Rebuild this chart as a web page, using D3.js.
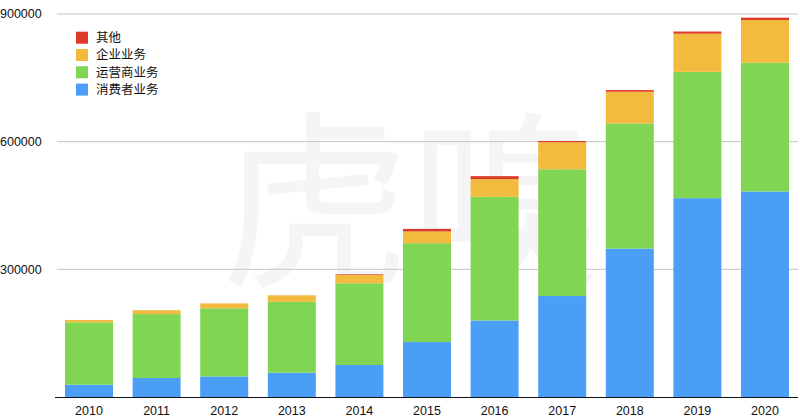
<!DOCTYPE html>
<html><head><meta charset="utf-8">
<script src="https://cdn.jsdelivr.net/npm/d3@7/dist/d3.min.js"></script>
<style>
html,body{margin:0;padding:0;background:#fff;}
svg{display:block;font-family:"Noto Sans CJK SC","Liberation Sans",Arial,sans-serif;}
</style></head>
<body><svg id="c" width="800" height="417"></svg>
<script>
const years = ["2010","2011","2012","2013","2014","2015","2016","2017","2018","2019","2020"];
const consumer   = [29000, 44620, 48376, 57014, 75100, 129128, 179808, 237249, 348852, 467304, 482916];
const carrier    = [146500, 150145, 160093, 166512, 192073, 232307, 290561, 297838, 294012, 296689, 302621];
const enterprise = [5500, 9164, 11530, 15263, 19391, 27609, 41600, 63500, 74409, 89710, 100339];
const other      = [0, 0, 0, 236, 1633, 5965, 7000, 3000, 3929, 5130, 5492];
const seriesNames = ["消费者业务","运营商业务","企业业务","其他"];
const colors = ["#4a9ef5","#80d553","#f2bb3e","#dd3b27"];
const yTicks = [300000, 600000, 900000];

const svg = d3.select("#c");

// faint watermark
svg.append("text").attr("x", 410).attr("y", 272).attr("text-anchor","middle")
  .attr("font-size", 190).attr("fill", "#f5f5f5").attr("font-family","Noto Sans CJK SC")
  .text("虎嗅");

const x = d3.scaleBand().domain(years).range([56.9, 797.1]).paddingInner(0.29).paddingOuter(0.12);
const y = d3.scaleLinear().domain([0, 900000]).range([397, 14]);

// gridlines
svg.append("g").selectAll("line").data(yTicks).join("line")
  .attr("x1", 57).attr("x2", 798).attr("y1", d => y(d)).attr("y2", d => y(d))
  .attr("stroke", "#c4c4c4").attr("stroke-width", 1);
svg.append("g").selectAll("text").data(yTicks).join("text")
  .attr("x", 0).attr("y", d => y(d)).attr("dy", "0.35em")
  .attr("font-size", 12.5).attr("fill", "#111").attr("font-family","Liberation Sans, Arial, sans-serif")
  .text(d => d);

const rows = years.map((yr, i) => ({year: yr, s0: consumer[i], s1: carrier[i], s2: enterprise[i], s3: other[i]}));
const stacked = d3.stack().keys(["s0","s1","s2","s3"])(rows);

svg.append("g").selectAll("g").data(stacked).join("g")
  .attr("fill", (d, i) => colors[i])
  .selectAll("rect").data(d => d).join("rect")
  .attr("x", d => x(d.data.year)).attr("width", x.bandwidth())
  .attr("y", d => y(d[1])).attr("height", d => Math.max(0, y(d[0]) - y(d[1])));

// baseline
svg.append("line").attr("x1", 55).attr("x2", 798).attr("y1", 397.5).attr("y2", 397.5)
  .attr("stroke", "#111").attr("stroke-width", 1.2);

// x labels
svg.append("g").selectAll("text").data(years).join("text")
  .attr("x", d => x(d) + x.bandwidth()/2).attr("y", 411).attr("dy", "0.35em")
  .attr("text-anchor", "middle").attr("font-size", 12.5).attr("fill", "#111")
  .attr("font-family","Liberation Sans, Arial, sans-serif")
  .text(d => d);

// legend
const legendOrder = [3, 2, 1, 0];
const lg = svg.append("g").selectAll("g").data(legendOrder).join("g")
  .attr("transform", (d, i) => `translate(76, ${37.7 + i*17.3})`);
lg.append("rect").attr("x", 0).attr("y", -6).attr("width", 12).attr("height", 12).attr("fill", d => colors[d]);
lg.append("text").attr("x", 20).attr("y", 0).attr("dy", "0.35em").attr("font-size", 12.5).attr("fill", "#111")
  .text(d => seriesNames[d]);
</script></body></html>
